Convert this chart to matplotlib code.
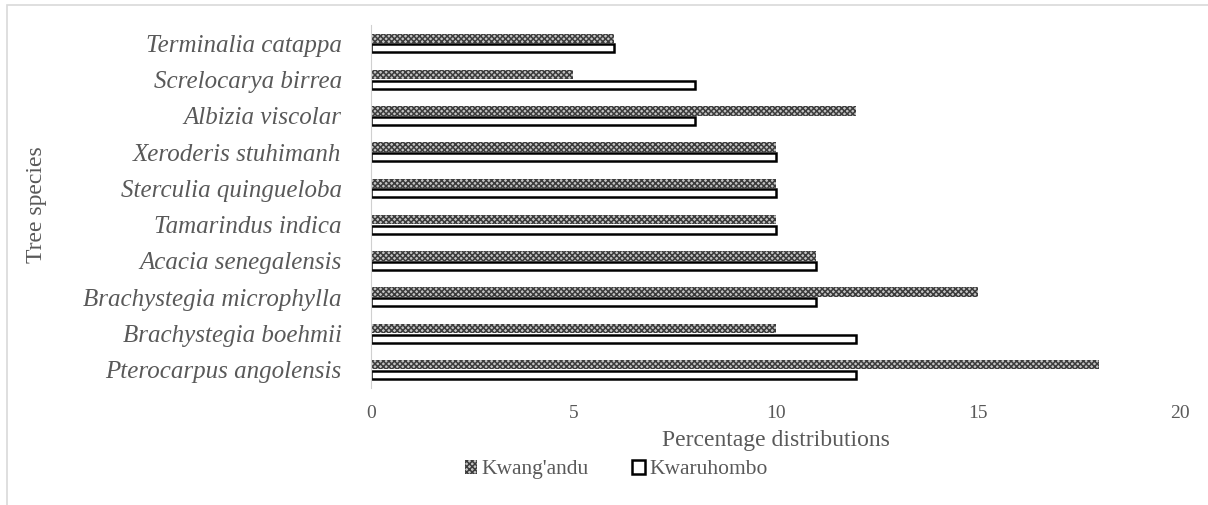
import matplotlib.pyplot as plt
import matplotlib.patches as mpatches
import numpy as np

species = ['Pterocarpus angolensis', 'Brachystegia boehmii', 'Brachystegia microphylla',
           'Acacia senegalensis', 'Tamarindus indica', 'Sterculia quingueloba',
           'Xeroderis stuhimanh', 'Albizia viscolar', 'Screlocarya birrea', 'Terminalia catappa']
kwangandu = [18, 10, 15, 11, 10, 10, 10, 12, 5, 6]
kwaruhombo = [12, 12, 11, 11, 10, 10, 10, 8, 8, 6]

plt.rcParams['font.family'] = ['Liberation Serif', 'DejaVu Serif']
plt.rcParams['hatch.linewidth'] = 1.1
text_col = '#595959'

fig = plt.figure(figsize=(12.08, 5.05), dpi=100)
ax = fig.add_axes([0.307, 0.232, 0.670, 0.718])

y = np.arange(len(species))
h = 0.26
ax.barh(y + h / 2 + 0.01, kwangandu, height=h, color='#c4c4c4', edgecolor='#3c3c3c',
        hatch='xxxxxx', linewidth=0, label="Kwang'andu")
ax.barh(y - h / 2 - 0.01, kwaruhombo, height=h * 0.85, color='white', edgecolor='black',
        linewidth=1.8, label='Kwaruhombo')

ax.set_xlim(0, 20)
ax.set_ylim(-0.5, len(species) - 0.5)
ax.set_xticks([0, 5, 10, 15, 20])
ax.set_yticks(y)
ax.set_yticklabels(species, fontstyle='italic', fontsize=18, color=text_col)
ax.tick_params(axis='x', labelsize=14, colors=text_col, length=0, pad=12)
ax.tick_params(axis='y', length=0, pad=21)

for s in ['top', 'right', 'bottom']:
    ax.spines[s].set_visible(False)
ax.spines['left'].set_color('#d0d0d0')

ax.set_xlabel('Percentage distributions', fontsize=17, color=text_col, labelpad=6)
fig.text(0.030, 0.595, 'Tree species', rotation=90, fontsize=17, color=text_col,
         ha='center', va='center')

fig.legend(loc='center', bbox_to_anchor=(0.51, 0.07), ncol=2, frameon=False,
           fontsize=15.5, labelcolor=text_col, handlelength=0.6, handleheight=0.6,
           handletextpad=0.2, columnspacing=2.0)

fig.patches.append(mpatches.Rectangle((0.006, -0.05), 1.2, 1.04, transform=fig.transFigure,
                                      fill=False, edgecolor='#d9d9d9', linewidth=1.2))

fig.savefig('out.png', dpi=100)
